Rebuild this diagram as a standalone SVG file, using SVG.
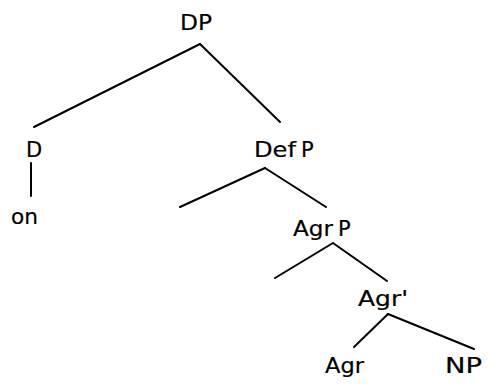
<svg xmlns="http://www.w3.org/2000/svg" width="493" height="385" viewBox="0 0 493 385">
<style>
text { font-family: "DejaVu Sans", "Liberation Sans", sans-serif; font-size: 21px; fill: #000; stroke: #000; stroke-width: 0.2; }
.e line { stroke: #000; stroke-width: 2; stroke-linecap: round; }
</style>
<rect width="493" height="385" fill="#fff"/>
<g class="e" id="connectors">
<line x1="200" y1="44" x2="34" y2="127"/>
<line x1="200" y1="44" x2="280" y2="122"/>
<line x1="31" y1="163" x2="31" y2="196"/>
<line x1="265" y1="168" x2="180" y2="207"/>
<line x1="265" y1="168" x2="326" y2="207"/>
<line x1="333" y1="243" x2="275" y2="278"/>
<line x1="333" y1="243" x2="387" y2="281"/>
<line x1="388" y1="314" x2="354" y2="347"/>
<line x1="388" y1="314" x2="474" y2="349"/>
</g>
<g id="DP"><text x="180" y="30" textLength="32" lengthAdjust="spacingAndGlyphs">DP</text></g>
<g id="D"><text x="26" y="157">D</text></g>
<g id="on"><text x="11" y="224" textLength="27" lengthAdjust="spacingAndGlyphs">on</text></g>
<g id="DefP"><text x="254" y="157"><tspan textLength="42" lengthAdjust="spacingAndGlyphs">Def</tspan><tspan dx="5">P</tspan></text></g>
<g id="AgrP"><text x="293" y="236"><tspan textLength="40" lengthAdjust="spacingAndGlyphs">Agr</tspan><tspan dx="5">P</tspan></text></g>
<g id="Agrbar"><text x="358" y="306" textLength="50" lengthAdjust="spacingAndGlyphs">Agr'</text></g>
<g id="Agr"><text x="325" y="373" textLength="39" lengthAdjust="spacingAndGlyphs">Agr</text></g>
<g id="NP"><text x="445" y="373" textLength="37" lengthAdjust="spacingAndGlyphs">NP</text></g>
</svg>
